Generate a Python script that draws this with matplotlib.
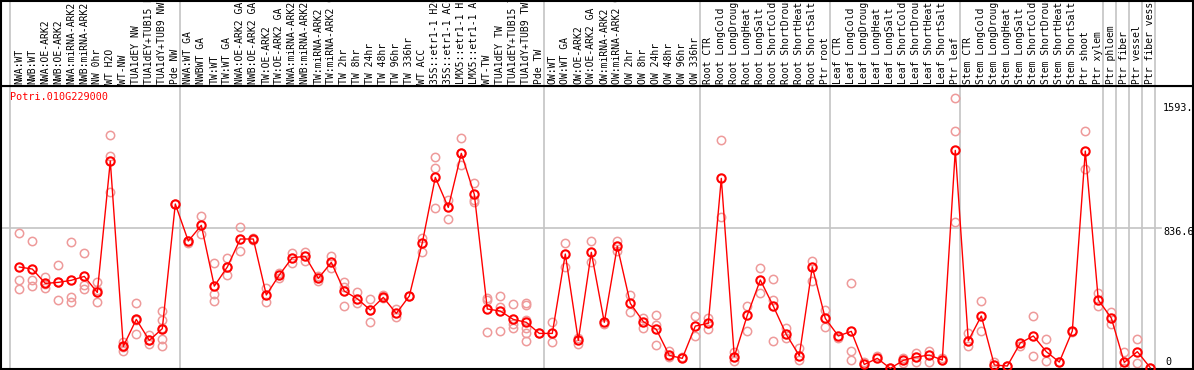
import matplotlib
matplotlib.use("Agg")
import matplotlib.pyplot as plt

gene = "Potri.010G229000"

labels = [
    "NWA:WT", "NWB:WT", "NWA:OE-ARK2", "NWB:OE-ARK2", "NWA:miRNA-ARK2", "NWB:miRNA-ARK2",
    "NW 0hr", "WT H2O", "WT-NW", "TUA1dEY NW", "TUA1dEY+TUB15 NW", "TUA1dY+TUB9 NW", "Pde NW",
    "NWA:WT GA", "NWBWT GA", "TW:WT", "TW:WT GA", "NWA:OE-ARK2 GA", "NWB:OE-ARK2 GA",
    "TW:OE-ARK2", "TW:OE-ARK2 GA", "NWA:miRNA-ARK2 GA", "NWB:miRNA-ARK2 GA", "TW:miRNA-ARK2",
    "TW:miRNA-ARK2 GA", "TW 2hr", "TW 8hr", "TW 24hr", "TW 48hr", "TW 96hr", "TW 336hr",
    "WT ACC", "35S::etr1-1 H2O", "35S::etr1-1 ACC", "LMX5::etr1-1 H2O", "LMX5::etr1-1 ACC",
    "WT-TW", "TUA1dEY TW", "TUA1dEY+TUB15 TW", "TUA1dY+TUB9 TW", "Pde TW",
    "OW:WT", "OW:WT GA", "OW:OE-ARK2", "OW:OE-ARK2 GA", "OW:miRNA-ARK2", "OW:miRNA-ARK2 GA",
    "OW 2hr", "OW 8hr", "OW 24hr", "OW 48hr", "OW 96hr", "OW 336hr",
    "Root CTR", "Root LongCold", "Root LongDrought", "Root LongHeat", "Root LongSalt",
    "Root ShortCold", "Root ShortDrought", "Root ShortHeat", "Root ShortSalt", "Ptr root",
    "Leaf CTR", "Leaf LongCold", "Leaf LongDrought", "Leaf LongHeat", "Leaf LongSalt",
    "Leaf ShortCold", "Leaf ShortDrought", "Leaf ShortHeat", "Leaf ShortSalt", "Ptr leaf",
    "Stem CTR", "Stem LongCold", "Stem LongDrought", "Stem LongHeat", "Stem LongSalt",
    "Stem ShortCold", "Stem ShortDrought", "Stem ShortHeat", "Stem ShortSalt", "Ptr shoot",
    "Ptr xylem", "Ptr phloem", "Ptr fiber", "Ptr vessel", "Ptr fiber vessel",
]

means = [
    610, 598, 514, 520, 532, 555, 461, 1231, 145, 303, 180, 249, 979,
    762, 854, 498, 610, 774, 774, 446, 563, 665, 672, 543, 637, 469, 424, 358, 432, 338, 440,
    752, 1135, 959, 1276, 1036, 364, 352, 303, 286, 221,
    221, 686, 180, 696, 286, 731, 397, 290, 245, 92, 75, 264,
    280, 1129, 85, 327, 534, 381, 215, 91, 610, 309,
    206, 233, 39, 75, 16, 63, 83, 94, 65, 1293,
    178, 323, 36, 30, 165, 206, 114, 53, 235, 1289, 417,
    311, 51, 114, 20,
]

reps = [
    [807, 532, 479], [762, 532, 497], [551, 508, 485], [620, 520, 417], [754, 436, 403],
    [690, 504, 481], [524, 475, 407], [1381, 1262, 1051], [172, 144, 120], [397, 299, 217],
    [212, 180, 157], [352, 298, 251, 188, 145], [979],
    [762, 749], [907, 801], [631, 450, 411], [661, 561, 610], [842, 703], [778, 768],
    [485, 403], [547, 573], [694, 631], [700, 647], [557, 528], [674, 606], [524, 495, 381],
    [461, 397], [420, 286, 358], [446, 426], [364, 315], [440],
    [778, 696], [1252, 1188, 953], [1002, 889], [1363, 1207, 1276], [1104, 1002, 989],
    [430, 417, 231], [440, 377, 237], [391, 274, 251], [397, 387, 299, 251, 221, 176], [221],
    [286, 168], [749, 612], [161, 192], [762, 637], [274], [762, 703], [446, 348], [313, 254],
    [329, 270, 153], [118, 85], [85], [321, 206],
    [309, 245], [1352, 901], [114, 59], [381, 237], [602, 456], [538, 417, 178], [254, 192],
    [133, 63], [645, 528], [356, 256],
    [196], [514, 118, 63], [55], [91], [16], [79, 45], [108, 55], [120, 55], [75],
    [1598, 1405, 874],
    [221, 149], [409, 237], [51], [30], [149], [321, 89], [186, 59], [53], [231], [1405, 1184],
    [456, 381], [348, 274], [114, 16], [186, 49], [20],
]

group_breaks = [-0.7, 12.38, 40.38, 52.38, 62.38, 72.38, 83.38, 84.38, 85.38, 86.38, 87.38]
grid_value = 836.6
grid_label = "836.6"
max_label = "1593.5"
y_top = 1673.2

W, H = 1194, 370
fig = plt.figure(figsize=(W / 100, H / 100), dpi=100)

x_left = (1 - 19.3) / 13
x_right = (1193 - 19.3) / 13

ax = fig.add_axes([1 / W, 1 / H, 1192 / W, 283.5 / H])
hdr = fig.add_axes([1 / W, (370 - 85.5) / H, 1192 / W, 84.8 / H])

for a in (ax, hdr):
    a.set_xlim(x_left, x_right)
    a.set_xticks([])
    a.set_yticks([])
    for s in a.spines.values():
        s.set_color("black")
        s.set_linewidth(1.5)
    for b in group_breaks:
        a.axvline(b, color="#c4c4c4", lw=1.2, zorder=0)

ax.set_ylim(12.5, y_top)
hdr.set_ylim(85.5, 0.7)

mono = "DejaVu Sans Mono"

# header labels
for i, lab in enumerate(labels):
    hdr.text(i, 83.8, lab, rotation=90, ha="center", va="bottom", fontsize=7,
             family=mono, color="black", clip_on=True)

# gridline
grid_end = (1161 - 19.3) / 13
ax.plot([x_left, grid_end], [grid_value, grid_value], color="#c4c4c4", lw=1.2, zorder=0)

# replicates
for i, rv in enumerate(reps):
    ax.plot([i] * len(rv), rv, linestyle="none", marker="o", markersize=6,
            mfc="none", mec="#ee9a9a", mew=1.1, zorder=2, clip_on=True)

# means
xs = list(range(len(means)))
ax.plot(xs, means, color="red", lw=1.0, zorder=3)
ax.plot(xs, means, linestyle="none", marker="o", markersize=6, mfc="none",
        mec="red", mew=1.5, zorder=4)

# title
ax.text((10 - 19.3) / 13, 1673.2 - 5.858 * (96.8 - 85.5), gene, color="red", fontsize=7.3,
        family=mono, ha="left", va="center")

# right labels
xl = (1163 - 19.3) / 13
ax.text(xl, 1673.2 - 5.858 * (108 - 85.5), max_label, fontsize=7.3, family=mono,
        ha="left", va="center", clip_on=True)
ax.text(xl, 1673.2 - 5.858 * (232 - 85.5), grid_label, fontsize=7.3, family=mono,
        ha="left", va="center", clip_on=True)
ax.text((1165 - 19.3) / 13, 1673.2 - 5.858 * (362 - 85.5), "0", fontsize=7.3, family=mono,
        ha="left", va="center", clip_on=True)

fig.savefig("out.png", dpi=100)
